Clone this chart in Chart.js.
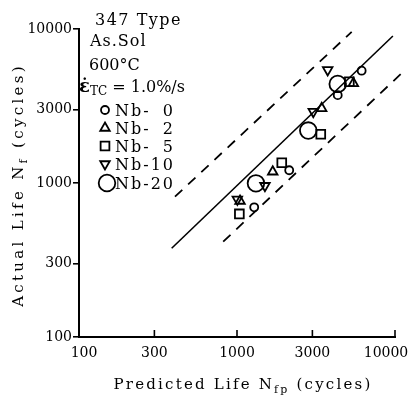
<!DOCTYPE html>
<html>
<head>
<meta charset="utf-8">
<script src="https://cdn.jsdelivr.net/npm/chart.js@4.4.1/dist/chart.umd.min.js"></script>
<style>
	html, body { margin: 0; padding: 0; background: #fff; }
	#grafico { display: block; }
</style>
</head>
<body>
<canvas id="grafico" width="413" height="396"></canvas>
<script>
// valori (Nfp predetto, Nf reale)
var nb0X = [6150, 4340, 2140, 1285];
var nb0Y = [5360, 3720, 1210, 695];
var nb2X = [5450, 3435, 1683, 1045];
var nb2Y = [4440, 3055, 1183, 764];
var nb5X = [5140, 3390, 1920, 1035];
var nb5Y = [4550, 2070, 1355, 630];
var nb10X = [3750, 3040, 1503, 1005];
var nb10Y = [5420, 2905, 960, 783];
var nb20X = [4340, 2825, 1318];
var nb20Y = [4400, 2190, 995];

// linea Nf = Nfp e bande fattore 2
var fitX = [386, 9700];
var fitY = [377, 9000];
var upperX = [405, 5320];
var upperY = [815, 9590];
var lowerX = [818, 11300];
var lowerY = [416, 5290];

var tickValues = [100, 300, 1000, 3000, 10000];
var serieNomi = ['Nb- 0', 'Nb- 2', 'Nb- 5', 'Nb-10', 'Nb-20'];
var noteTesto = ['347 Type', 'As.Sol', '600\u00B0C'];

var FONT = '"DejaVu Serif", "Liberation Serif", serif';

function punti(xs, ys) {
	var out = [];
	for (var i = 0; i < xs.length; i++) out.push({x: xs[i], y: ys[i]});
	return out;
}

function serie(nome, xs, ys, stile, raggio, rotazione) {
	return {
		label: nome,
		data: punti(xs, ys),
		pointStyle: stile,
		pointRadius: raggio,
		pointRotation: rotazione || 0,
		pointBorderColor: '#000',
		pointBackgroundColor: 'rgba(0,0,0,0)',
		pointBorderWidth: 1.8,
		showLine: false
	};
}

function linea(nome, xs, ys, dash) {
	return {
		label: nome,
		data: punti(xs, ys),
		showLine: true,
		borderColor: '#000',
		borderWidth: dash ? 1.8 : 1.6,
		borderDash: dash || [],
		pointRadius: 0,
		clip: false
	};
}

// scrive pezzi di testo uno dopo l'altro (per i pedici)
function scriviPezzi(ctx, x, y, pezzi, spazio) {
	pezzi.forEach(function(p) {
		ctx.font = p.font;
		ctx.letterSpacing = (p.spazio != null ? p.spazio : spazio) + 'px';
		ctx.fillText(p.t, x, y + (p.dy || 0));
		x += ctx.measureText(p.t).width;
	});
	return x;
}

function larghezzaPezzi(ctx, pezzi, spazio) {
	var w = 0;
	pezzi.forEach(function(p) {
		ctx.font = p.font;
		ctx.letterSpacing = (p.spazio != null ? p.spazio : spazio) + 'px';
		w += ctx.measureText(p.t).width;
	});
	return w;
}

var decorazioni = {
	id: 'decorazioni',
	afterDraw: function(chart) {
		var ctx = chart.ctx;
		var sx = chart.scales.x;
		var area = chart.chartArea;
		ctx.save();
		ctx.fillStyle = '#000';
		ctx.strokeStyle = '#000';

		// tacche asse x verso l'interno
		ctx.lineWidth = 1.6;
		tickValues.forEach(function(v) {
			var px = sx.getPixelForValue(v);
			ctx.beginPath();
			ctx.moveTo(px, area.bottom);
			ctx.lineTo(px, area.bottom - 7);
			ctx.stroke();
		});

		// etichette asse x
		ctx.font = '14px ' + FONT;
		ctx.textBaseline = 'middle';
		ctx.textAlign = 'center';
		tickValues.forEach(function(v, i) {
			var px = sx.getPixelForValue(v);
			if (i == 0) px += 5;
			if (i == tickValues.length - 1) px -= 9;
			ctx.fillText(String(v), px, 353);
		});

		// titolo asse x
		ctx.textBaseline = 'alphabetic';
		ctx.textAlign = 'left';
		var px15 = '15px ' + FONT;
		var px11 = '11px ' + FONT;
		var titoloX = [
			{t: 'Predicted Life N', font: px15},
			{t: 'fp', font: px11, dy: 4},
			{t: ' (cycles)', font: px15}
		];
		var w = larghezzaPezzi(ctx, titoloX, 2.2);
		scriviPezzi(ctx, 243 - w / 2, 389, titoloX, 2.2);

		// titolo asse y
		var titoloY = [
			{t: 'Actual Life N', font: px15},
			{t: 'f', font: px11, dy: 4},
			{t: ' (cycles)', font: px15}
		];
		ctx.save();
		ctx.translate(23, 185);
		ctx.rotate(-Math.PI / 2);
		w = larghezzaPezzi(ctx, titoloY, 3.3);
		scriviPezzi(ctx, -w / 2, 0, titoloY, 3.3);
		ctx.restore();

		// note in alto a sinistra
		ctx.font = '16px ' + FONT;
		ctx.letterSpacing = '1.5px';
		ctx.fillText(noteTesto[0], 95, 25);
		ctx.letterSpacing = '1px';
		ctx.fillText(noteTesto[1], 90, 46);
		ctx.letterSpacing = '0px';
		ctx.fillText(noteTesto[2], 89, 70);
		scriviPezzi(ctx, 79, 92, [
			{t: '\u03B5\u0307', font: 'bold 18px ' + FONT},
			{t: 'TC', font: '12px ' + FONT, dy: 3},
			{t: ' = 1.0%/s', font: '16px ' + FONT}
		], 0);

		// legenda
		var yLeg = [110, 128, 146, 164, 183];
		ctx.font = '16px ' + FONT;
		for (var i = 0; i < serieNomi.length; i++) {
			var ds = chart.data.datasets[i];
			ctx.lineWidth = ds.pointBorderWidth;
			ctx.fillStyle = 'rgba(0,0,0,0)';
			Chart.helpers.drawPoint(ctx, {
				pointStyle: ds.pointStyle,
				radius: ds.pointRadius,
				rotation: ds.pointRotation,
				borderWidth: ds.pointBorderWidth
			}, i == 4 ? 107 : 105, yLeg[i]);
			ctx.fillStyle = '#000';
			var nome = serieNomi[i];
			ctx.letterSpacing = '2px';
			ctx.textAlign = 'left';
			ctx.fillText(nome.slice(0, 3), 115, yLeg[i] + 6);
			ctx.textAlign = 'right';
			ctx.fillText(nome.slice(3).trim(), 175, yLeg[i] + 6);
		}
		ctx.restore();
	}
};

var config_grafico = {
	type: 'scatter',
	data: {
		datasets: [
			serie(serieNomi[0], nb0X, nb0Y, 'circle', 4),
			serie(serieNomi[1], nb2X, nb2Y, 'triangle', 5.5),
			serie(serieNomi[2], nb5X, nb5Y, 'rect', 6.2),
			serie(serieNomi[3], nb10X, nb10Y, 'triangle', 5.5, 180),
			serie(serieNomi[4], nb20X, nb20Y, 'circle', 8.3),
			linea('fit', fitX, fitY),
			linea('upper', upperX, upperY, [10, 8]),
			linea('lower', lowerX, lowerY, [10, 8])
		]
	},
	options: {
		responsive: false,
		animation: false,
		layout: { padding: { top: 29, right: 18, left: 0, bottom: 0 } },
		plugins: { legend: { display: false }, tooltip: { enabled: false } },
		scales: {
			x: {
				type: 'logarithmic',
				position: 'bottom',
				min: 100,
				max: 10000,
				grid: { display: false },
				border: { display: true, color: '#000', width: 2 },
				ticks: { display: false },
				afterBuildTicks: function(s) { s.ticks = tickValues.map(function(v) { return {value: v}; }); },
				afterFit: function(s) { s.height = 59; s.paddingLeft = 0; s.paddingRight = 0; }
			},
			y: {
				type: 'logarithmic',
				min: 100,
				max: 10000,
				grid: { display: true, drawOnChartArea: false, drawTicks: true, tickLength: 6, color: '#000', lineWidth: 1.6 },
				border: { display: true, color: '#000', width: 2 },
				ticks: {
					color: '#000',
					padding: 1,
					font: { family: FONT, size: 14 },
					callback: function(v) { return String(v); }
				},
				afterBuildTicks: function(s) { s.ticks = tickValues.map(function(v) { return {value: v}; }); },
				afterFit: function(s) { s.width = 79; s.paddingTop = 0; s.paddingBottom = 0; }
			}
		}
	},
	plugins: [decorazioni]
};

var grafico = new Chart(document.getElementById('grafico').getContext('2d'), config_grafico);
</script>
</body>
</html>
